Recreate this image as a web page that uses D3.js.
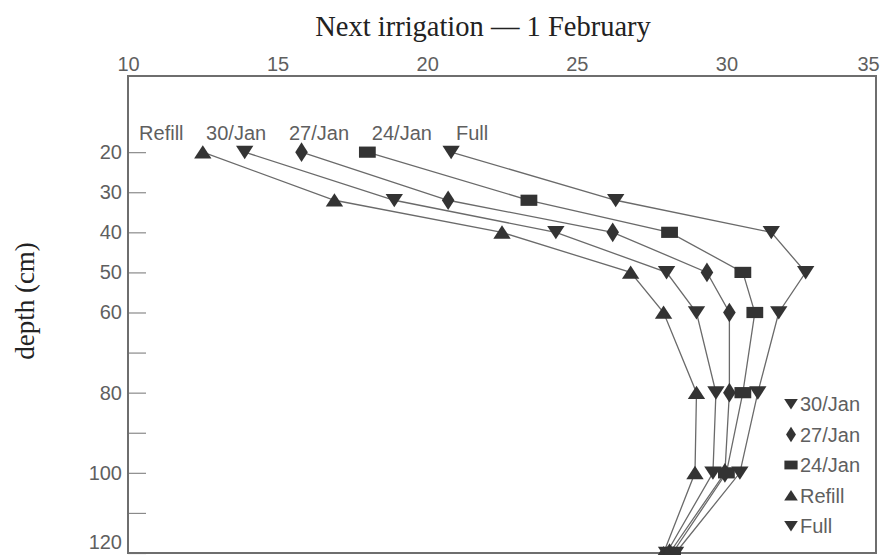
<!DOCTYPE html>
<html>
<head>
<meta charset="utf-8">
<script src="https://cdn.jsdelivr.net/npm/d3@7/dist/d3.min.js"></script>
<style>
  html, body { margin: 0; padding: 0; background: #fff; }
  svg { display: block; }
</style>
</head>
<body>
<svg id="chart" width="886" height="555"></svg>
<script>
// ---------- data ----------
const depths = [20, 32, 40, 50, 60, 80, 100, 120];
const seriesNames = ["Refill", "30/Jan", "27/Jan", "24/Jan", "Full"];
const refillValues = [12.5, 16.9, 22.5, 26.8, 27.9, 29.0, 28.95, 27.9];
const jan30Values  = [13.9, 18.9, 24.3, 28.0, 29.0, 29.65, 29.55, 28.0];
const jan27Values  = [15.8, 20.7, 26.2, 29.35, 30.1, 30.1, 29.95, 28.1];
const jan24Values  = [18.0, 23.4, 28.1, 30.55, 30.95, 30.55, 30.0, 28.2];
const fullValues   = [20.8, 26.3, 31.5, 32.65, 31.75, 31.05, 30.45, 28.3];
const inlineLabelX = [10.37, 12.61, 15.38, 18.15, 20.96]; // start of top labels, in x units
const legendOrder = ["30/Jan", "27/Jan", "24/Jan", "Refill", "Full"];
const xTicks = [10, 15, 20, 25, 30, 35];
const yTicks = [20, 30, 40, 50, 60, 70, 80, 90, 100, 110, 120];
const yTickLabels = [20, 30, 40, 50, 60, 80, 100, 120];
const titleText = "Next irrigation \u2014 1 February";
const yTitle = "depth (cm)";

const valuesByName = {
  "Refill": refillValues, "30/Jan": jan30Values, "27/Jan": jan27Values,
  "24/Jan": jan24Values, "Full": fullValues
};
const shapeByName = {
  "Refill": "up", "30/Jan": "down", "27/Jan": "diamond", "24/Jan": "square", "Full": "down"
};

// ---------- layout ----------
const svg = d3.select("#chart");
const mLeft = 128, mRight = 876, mTop = 76, mBottom = 553;
const x = d3.scaleLinear().domain([10, 35]).range([mLeft, mRight]);
const y = d3.scaleLinear().domain([1, 120]).range([mTop, mBottom]);

const axisGrey = "#6e6e6e";
const textGrey = "#5f5f5f";
const lineGrey = "#6a6a6a";
const markFill = "#333333";

// marker shapes
function shapePath(kind, s) {
  const p = d3.path();
  if (kind === "up") {
    p.moveTo(0, -s * 0.5); p.lineTo(s * 0.62, s * 0.45); p.lineTo(-s * 0.62, s * 0.45); p.closePath();
  } else if (kind === "down") {
    p.moveTo(0, s * 0.5); p.lineTo(s * 0.62, -s * 0.45); p.lineTo(-s * 0.62, -s * 0.45); p.closePath();
  } else if (kind === "diamond") {
    p.moveTo(0, -s * 0.7); p.lineTo(s * 0.45, 0); p.lineTo(0, s * 0.7); p.lineTo(-s * 0.45, 0); p.closePath();
  } else {
    p.rect(-s * 0.6, -s * 0.4, s * 1.2, s * 0.8);
  }
  return p.toString();
}

// ---------- titles ----------
svg.append("text")
  .attr("x", 483).attr("y", 36)
  .attr("text-anchor", "middle")
  .attr("font-family", "Liberation Serif, 'DejaVu Serif', serif")
  .attr("font-size", 28.5)
  .attr("fill", "#222")
  .text(titleText);

svg.append("text")
  .attr("transform", `translate(34,301) rotate(-90)`)
  .attr("text-anchor", "middle")
  .attr("font-family", "Liberation Serif, 'DejaVu Serif', serif")
  .attr("font-size", 27)
  .attr("fill", "#222")
  .text(yTitle);

// ---------- axes ----------
const xAxis = d3.axisTop(x).tickValues(xTicks).tickSize(0).tickPadding(5).tickFormat(d3.format("d"));
const gx = svg.append("g").attr("transform", `translate(0,${mTop})`).call(xAxis);
gx.select(".domain").remove();
gx.selectAll("text")
  .attr("font-family", "Liberation Sans, Arial, sans-serif")
  .attr("font-size", 20).attr("fill", textGrey)
  .attr("dx", (d, i, n) => i === n.length - 1 ? -8 : 0);

const yAxis = d3.axisRight(y).tickValues(yTicks).tickSize(18)
  .tickFormat(d => yTickLabels.includes(d) ? d : "");
const gy = svg.append("g").attr("transform", `translate(${mLeft},0)`).call(yAxis);
gy.select(".domain").remove();
gy.selectAll("line").attr("stroke", "#8a8a8a").attr("stroke-width", 1.2);
gy.selectAll("text")
  .attr("x", -6).attr("text-anchor", "end")
  .attr("font-family", "Liberation Sans, Arial, sans-serif")
  .attr("font-size", 20).attr("fill", textGrey)
  .attr("dy", (d, i, n) => i === n.length - 1 ? "-0.22em" : "0.32em");

// frame
svg.append("rect")
  .attr("x", mLeft).attr("y", mTop)
  .attr("width", mRight - mLeft).attr("height", mBottom - mTop)
  .attr("fill", "none").attr("stroke", axisGrey).attr("stroke-width", 2);

// ---------- series ----------
const line = d3.line().x(d => x(d.v)).y(d => y(d.d));
const plotG = svg.append("g");
seriesNames.forEach(name => {
  const pts = depths.map((d, i) => ({ d: d, v: valuesByName[name][i] }));
  plotG.append("path").datum(pts)
    .attr("d", line).attr("fill", "none")
    .attr("stroke", lineGrey).attr("stroke-width", 1.3);
});
seriesNames.forEach(name => {
  const pts = depths.map((d, i) => ({ d: d, v: valuesByName[name][i] }));
  plotG.selectAll(null).data(pts).enter().append("path")
    .attr("transform", d => `translate(${x(d.v)},${y(d.d)})`)
    .attr("d", shapePath(shapeByName[name], 14))
    .attr("fill", markFill);
});

// inline top labels
seriesNames.forEach((name, i) => {
  svg.append("text")
    .attr("x", x(inlineLabelX[i])).attr("y", y(depths[0]) - 12)
    .attr("font-family", "Liberation Sans, Arial, sans-serif")
    .attr("font-size", 20).attr("fill", textGrey)
    .text(name);
});

// ---------- legend ----------
const lg = svg.append("g");
legendOrder.forEach((name, i) => {
  const ly = 404 + i * 30.5;
  lg.append("path")
    .attr("transform", `translate(791,${ly})`)
    .attr("d", shapePath(shapeByName[name], 11))
    .attr("fill", markFill);
  lg.append("text")
    .attr("x", 800).attr("y", ly + 7)
    .attr("font-family", "Liberation Sans, Arial, sans-serif")
    .attr("font-size", 20).attr("fill", textGrey)
    .text(name);
});
</script>
</body>
</html>
